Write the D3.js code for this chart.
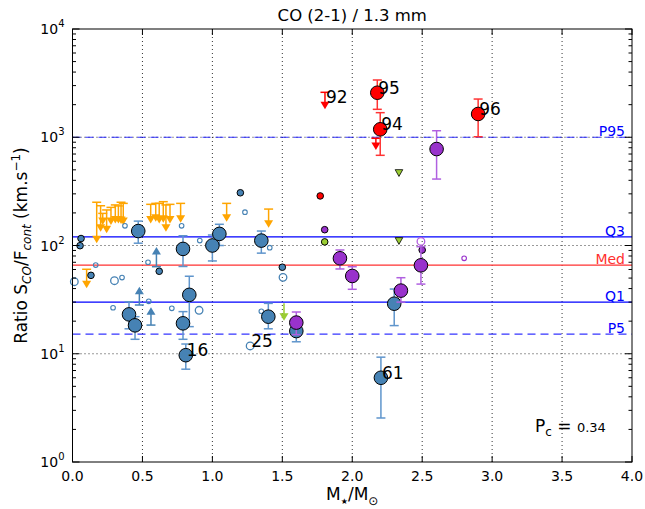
<!DOCTYPE html>
<html><head><meta charset="utf-8">
<script src="https://cdn.jsdelivr.net/npm/d3@7"></script>
<style>body{margin:0;background:#fff;}svg{font-family:"DejaVu Sans",sans-serif;}</style>
</head><body>
<svg id="c" width="645" height="509"></svg>
<script>
// ---- data ----
const xTicks = [0,0.5,1,1.5,2,2.5,3,3.5,4];
const yTickExps = [0,1,2,3,4];
// stat lines: [label, value, color, dashed]
const statLines = [["P95",1000,"blue",true],["Q3",120,"blue",false],["Med",66,"#ff3030",false],["Q1",30,"blue",false],["P5",15.2,"blue",true]];
// detections with error bars [M, value, low, high]
const blueBig = [[0.47,136,105,168],[0.79,93,64,123],[1.00,100,72,125],[1.05,128,100,157],[1.35,111,85,136],
  [0.835,35,17.8,52],[0.79,19.1,13.6,24.5],[0.81,9.7,7.2,12.3],[0.404,23.1,17,30.2],[0.447,18.3,13.6,22],
  [1.40,22,17,29.2],[1.60,16.2,12.9,19],[2.30,29,18.2,39.6],[2.205,6.0,2.55,9.3]];
const blueSmall = [[0.061,116],[0.054,99.6],[0.132,53],[0.62,57.8],[1.20,307],[1.50,63]];
const blueOpenSmall = [[0.375,152],[0.78,152],[0.91,111],[1.233,203],[1.41,95.5],[0.166,66],[0.54,70],[0.354,50.5],[0.545,30.5],[0.29,26.6],[0.71,26.3],[1.35,24.7]];
const blueOpenMed = [[0.30,47.3],[0.013,46.3],[1.505,50.8],[0.905,25.2],[1.27,11.8]];
// lower limits [M, base, tip]
const blueLower = [[0.60,63.7,96.9],[0.478,28.2,41.6],[0.561,18.4,26.9]];
// upper limits [M, cap, tip]
const orangeUpper = [[0.173,251,105],[0.201,233,134],[0.216,198,155],[0.244,213,130],[0.275,225,155],[0.306,237,160],
  [0.328,232,160],[0.347,251,158],[0.363,245,155],[0.559,240,160],[0.595,245,166],[0.62,245,160],[0.649,254,162],
  [0.668,237,134],[0.697,240,160],[0.773,245,162],[1.102,245,166],[1.402,217,146],[0.101,60.3,40.2]];
const redBig = [[2.179,2578,1811,3380],[2.20,1184,681,1687],[2.90,1641,1011,2254]];
const redUpper = [[1.805,2601,1811],[2.169,978,762]];
const redSmall = [[1.771,287]];
const purpleBig = [[2.603,778,411,1149],[1.912,76.2,60.7,90.9],[2.0,52.3,39.4,63.7],[2.491,65.6,44,97.5],[2.348,38.3,30,50.4],[1.60,19.4,15,24.3]];
const purpleSmall = [[1.803,140],[2.50,90.9]];
const purpleOpenMed = [[2.491,109]];
const purpleOpenSmall = [[2.80,76.2]];
const greenSmall = [[1.803,108]];
const greenTri = [[2.334,471],[2.334,111]];
const greenUpper = [[1.512,29.2,20.2]];
// labels [text, M, value]
const labels = [["92",1.805,2130],["95",2.179,2578],["94",2.20,1184],["96",2.90,1641],["16",0.81,9.7],["25",1.27,11.8],["61",2.205,6.0]];
const pcValue = "0.34";

// ---- layout ----
const svg = d3.select("#c");
const L=72.5, T=29, W=559.5, H=433;
const x = d3.scaleLinear().domain([0,4]).range([L,L+W]);
const y = d3.scaleLog().domain([1,1e4]).range([T+H,T]);

const g = svg.append("g");
// grid
g.selectAll(".gx").data(xTicks.slice(1,-1)).join("line")
  .attr("x1",d=>x(d)).attr("x2",d=>x(d)).attr("y1",T).attr("y2",T+H)
  .attr("stroke","#000").attr("stroke-width",0.8).attr("stroke-dasharray","1,3");
g.selectAll(".gy").data(yTickExps.slice(1,-1)).join("line")
  .attr("x1",L).attr("x2",L+W).attr("y1",d=>y(Math.pow(10,d))).attr("y2",d=>y(Math.pow(10,d)))
  .attr("stroke","#000").attr("stroke-width",0.8).attr("stroke-dasharray","1,3");

// stat lines
statLines.forEach(([lab,v,col,dash])=>{
  g.append("line").attr("x1",L).attr("x2",L+W).attr("y1",y(v)).attr("y2",y(v))
   .attr("stroke",col).attr("stroke-width",1.2).attr("stroke-opacity",dash?0.8:1)
   .attr("stroke-dasharray",dash?"8,5":null);
  g.append("text").attr("x",L+W-7).attr("y",y(v)-1).attr("text-anchor","end")
   .attr("font-size",14).attr("fill",col).text(lab);
});

// helpers
function errbars(data,col){
  data.forEach(([m,v,lo,hi])=>{
    g.append("line").attr("x1",x(m)).attr("x2",x(m)).attr("y1",y(lo)).attr("y2",y(hi)).attr("stroke",col).attr("stroke-width",1.5);
    [lo,hi].forEach(e=>g.append("line").attr("x1",x(m)-4.5).attr("x2",x(m)+4.5).attr("y1",y(e)).attr("y2",y(e)).attr("stroke",col).attr("stroke-width",1.5));
  });
}
function circles(data,r,fill,stroke,sw){
  g.selectAll(null).data(data).join("circle").attr("cx",d=>x(d[0])).attr("cy",d=>y(d[1])).attr("r",r)
   .attr("fill",fill).attr("stroke",stroke).attr("stroke-width",sw);
}
function arrows(data,col,down,cap){
  data.forEach(([m,a,b])=>{
    const ya=y(a), yb=y(b), xm=x(m);
    const dir = down?1:-1;
    g.append("line").attr("x1",xm).attr("x2",xm).attr("y1",ya).attr("y2",yb-dir*6).attr("stroke",col).attr("stroke-width",1.5);
    if(cap) g.append("line").attr("x1",xm-4.5).attr("x2",xm+4.5).attr("y1",ya).attr("y2",ya).attr("stroke",col).attr("stroke-width",1.5);
    g.append("path").attr("d",`M${xm-4.5},${yb-dir*7.5}L${xm+4.5},${yb-dir*7.5}L${xm},${yb}Z`).attr("fill",col);
  });
}

// blue
arrows(orangeUpper,"orange",true,true);
arrows(blueLower,"steelblue",false,true);
circles(blueOpenSmall,2.3,"none","steelblue",1.1);
circles(blueOpenMed,3.8,"none","steelblue",1.3);
circles(blueSmall,3.3,"steelblue","#000",1);
errbars(blueBig,"#5f95cc");
circles(blueBig,6.8,"steelblue","#000",1);
// green
arrows(greenUpper,"yellowgreen",true,false);
circles(greenSmall,3.3,"yellowgreen","#000",1);
greenTri.forEach(([m,v])=>{
  g.append("path").attr("d",`M${x(m)-3.8},${y(v)-3}L${x(m)+3.8},${y(v)-3}L${x(m)},${y(v)+3.8}Z`)
   .attr("fill","yellowgreen").attr("stroke","#000").attr("stroke-width",0.8);
});
// purple
circles(purpleOpenSmall,2.3,"none","darkorchid",1.1);
circles(purpleOpenMed,3.8,"none","#b45ee0",1.3);
circles(purpleSmall,3.3,"darkorchid","#000",1);
errbars(purpleBig,"#b060e0");
circles(purpleBig,6.8,"darkorchid","#000",1);
// red
arrows(redUpper,"red",true,true);
circles(redSmall,3.3,"red","#000",1);
errbars(redBig,"#ff3333");
circles(redBig,6.8,"red","#000",1);

// labels
g.selectAll(null).data(labels).join("text").attr("x",d=>x(d[1])+1).attr("y",d=>y(d[2])+1)
  .attr("font-size",17).attr("fill","#000").text(d=>d[0]);

// frame
svg.append("rect").attr("x",L).attr("y",T).attr("width",W).attr("height",H).attr("fill","none").attr("stroke","#000").attr("stroke-width",1);

// ticks x
xTicks.forEach(t=>{
  svg.append("line").attr("x1",x(t)).attr("x2",x(t)).attr("y1",T+H).attr("y2",T+H-6).attr("stroke","#000");
  svg.append("line").attr("x1",x(t)).attr("x2",x(t)).attr("y1",T).attr("y2",T+6).attr("stroke","#000");
  svg.append("text").attr("x",x(t)).attr("y",T+H+19).attr("text-anchor","middle").attr("font-size",14).text(d3.format(".1f")(t));
});
// ticks y
yTickExps.forEach(e=>{
  const yy=y(Math.pow(10,e));
  [[L,L+7],[L+W,L+W-7]].forEach(([a,b])=>svg.append("line").attr("x1",a).attr("x2",b).attr("y1",yy).attr("y2",yy).attr("stroke","#000"));
  const t=svg.append("text").attr("x",L-8).attr("y",yy+5).attr("text-anchor","end").attr("font-size",14);
  t.append("tspan").text("10");
  t.append("tspan").attr("dy",-7).attr("font-size",10).text(e);
  if(e<4){
    for(let k=2;k<10;k++){
      const ym=y(k*Math.pow(10,e));
      [[L,L+3.5],[L+W,L+W-3.5]].forEach(([a,b])=>svg.append("line").attr("x1",a).attr("x2",b).attr("y1",ym).attr("y2",ym).attr("stroke","#000"));
    }
  }
});

// title
svg.append("text").attr("x",L+W/2).attr("y",21).attr("text-anchor","middle").attr("font-size",16.5).text("CO (2-1) / 1.3 mm");
// x label
const xl=svg.append("text").attr("x",L+W/2).attr("y",500).attr("text-anchor","middle").attr("font-size",17);
xl.append("tspan").text("M");
xl.append("tspan").attr("dy",4).attr("font-size",8).text("\u2605");
xl.append("tspan").attr("dy",-4).text("/M");
xl.append("tspan").attr("dy",5).attr("font-size",12).text("\u2299");
// y label
const yl=svg.append("text").attr("transform",`translate(27,${T+H/2}) rotate(-90)`).attr("text-anchor","middle").attr("font-size",17);
yl.append("tspan").text("Ratio S");
yl.append("tspan").attr("dy",4).attr("font-size",12).attr("font-style","italic").text("CO");
yl.append("tspan").attr("dy",-4).text("/F");
yl.append("tspan").attr("dy",4).attr("font-size",12).attr("font-style","italic").text("cont");
yl.append("tspan").attr("dy",-4).text(" (km.s");
yl.append("tspan").attr("dy",-7).attr("font-size",12).text("\u22121");
yl.append("tspan").attr("dy",7).text(")");
// Pc
const pc=svg.append("text").attr("x",535).attr("y",432).attr("font-size",17);
pc.append("tspan").text("P");
pc.append("tspan").attr("dy",4).attr("font-size",12).text("c");
pc.append("tspan").attr("dy",-4).text(" = ");
pc.append("tspan").attr("font-size",13).text(pcValue);
</script>
</body></html>
